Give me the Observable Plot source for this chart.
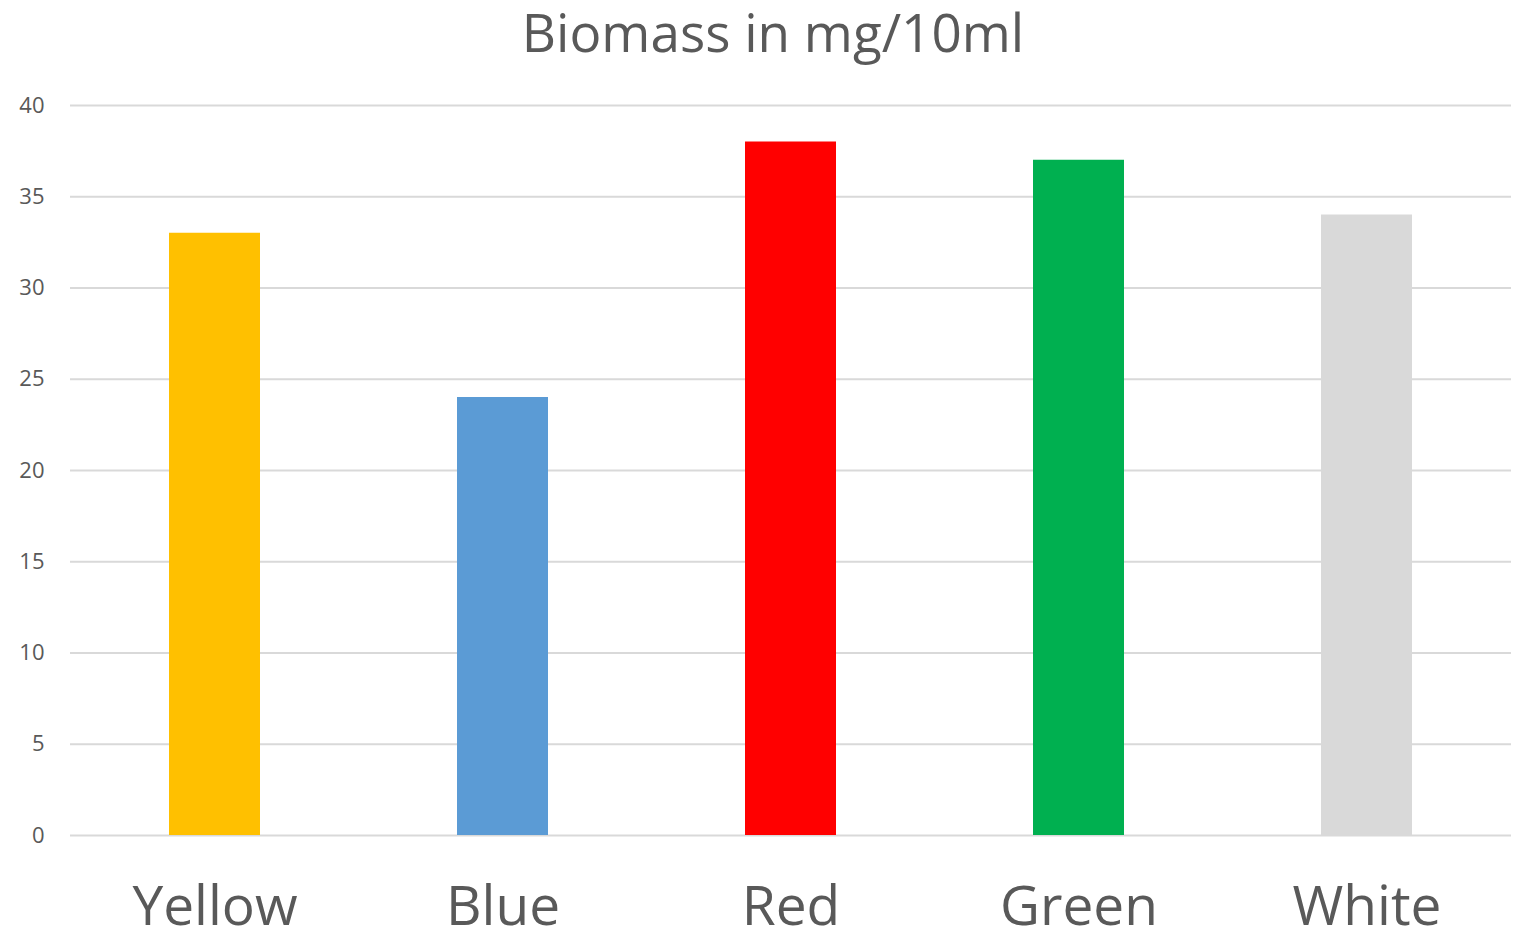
<!DOCTYPE html>
<html>
<head>
<meta charset="utf-8">
<script src="https://cdn.jsdelivr.net/npm/d3@7"></script>
<script src="https://cdn.jsdelivr.net/npm/@observablehq/plot@0.6"></script>
<style>
  html, body { margin: 0; padding: 0; background: #fff; }
  #chart svg { display: block; }
</style>
</head>
<body>
<div id="chart"></div>
<script>
const categories = ["Yellow", "Blue", "Red", "Green", "White"];
const values = [33, 24, 38, 37, 34];
const yTicks = [0, 5, 10, 15, 20, 25, 30, 35, 40];
const title = "Biomass in mg/10ml";
const palette = ["#FFC000", "#5B9BD5", "#FF0000", "#00B050", "#D9D9D9"];

const data = categories.map((c, i) => ({category: c, value: values[i]}));
const font = "'Open Sans', sans-serif";
const textColor = "#595959";

const chart = Plot.plot({
  width: 1517,
  height: 938,
  marginTop: 105,
  marginBottom: 103,
  marginLeft: 70,
  marginRight: 6,
  style: {fontFamily: font, background: "#fff", color: textColor},
  x: {domain: categories, paddingInner: 0.684, paddingOuter: 0.342, label: null},
  y: {domain: [0, 40], ticks: yTicks, label: null},
  marks: [
    Plot.gridY(yTicks, {stroke: "#d9d9d9", strokeWidth: 2, strokeOpacity: 1}),
    Plot.barY(data, {x: "category", y: "value", fill: d => palette[categories.indexOf(d.category)]}),
    Plot.axisY(yTicks, {tickSize: 0, tickPadding: 26, fontSize: 22, fill: textColor, label: null}),
    Plot.axisX({tickSize: 0, tickPadding: 50, fontSize: 55, fill: textColor, label: null}),
    Plot.text([title], {frameAnchor: "top", dx: -18, dy: -70, fontSize: 53, fill: textColor, text: d => d, lineAnchor: "middle"})
  ]
});
document.getElementById("chart").appendChild(chart);
</script>
</body>
</html>
